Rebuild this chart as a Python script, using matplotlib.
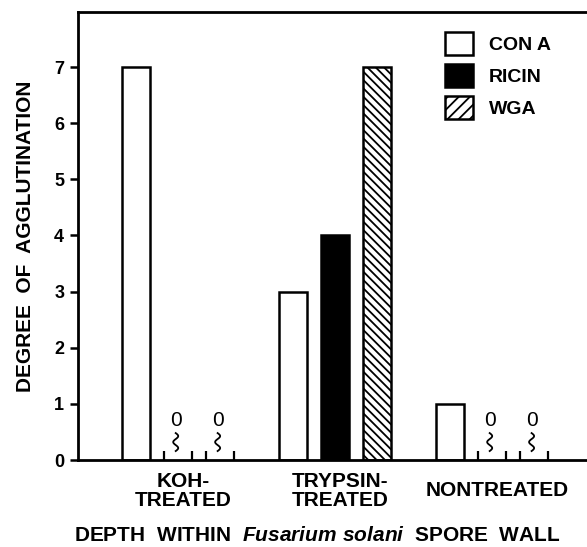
import matplotlib
matplotlib.use("Agg")
import matplotlib.pyplot as plt
from matplotlib.patches import Patch
import numpy as np

# Données
groupes = ["KOH-\nTREATED", "TRYPSIN-\nTREATED", "NONTREATED"]
lectines = ["CON A", "RICIN", "WGA"]
con_a = [7, 3, 1]
ricin = [0, 4, 0]
wga = [0, 7, 0]
yticks = [0, 1, 2, 3, 4, 5, 6, 7]

plt.rcParams['font.family'] = ['Liberation Sans', 'DejaVu Sans']
plt.rcParams['font.weight'] = 'bold'
plt.rcParams['axes.labelweight'] = 'bold'
plt.rcParams['hatch.linewidth'] = 1.3
plt.rcParams['mathtext.fontset'] = 'custom'
plt.rcParams['mathtext.it'] = 'Liberation Sans:italic:bold'
plt.rcParams['mathtext.rm'] = 'Liberation Sans:bold'

fig = plt.figure(figsize=(5.87, 5.47), dpi=100)
ax = fig.add_axes([0.133, 0.159, 0.867, 0.819])

x = np.arange(len(groupes))
larg = 0.178
decal = 0.267
series = [con_a, ricin, wga]
remplis = ["white", "black", "white"]
hachures = [None, None, "\\\\\\\\"]

for i, vals in enumerate(series):
    pos = x + (i - 1) * decal
    for xp, v in zip(pos, vals):
        if v > 0:
            ax.bar(xp, v, width=larg, edgecolor="black", linewidth=1.8,
                   facecolor=remplis[i], hatch=hachures[i], zorder=2)
        else:
            # valeur nulle : petits traits, "0" et trait ondulé
            ax.vlines([xp - larg / 2, xp + larg / 2], 0, 0.16, color="black", lw=1.6)
            ax.text(xp - 0.015, 0.71, "0", ha="center", va="center", fontsize=15,
                    fontweight="normal")
            t = np.linspace(0, 1, 40)
            ax.plot(xp - 0.015 + 0.016 * np.sin(2 * np.pi * 1.5 * t),
                    0.48 - 0.32 * t, color="black", lw=1.3)

ax.set_xlim(-0.637, 2.605)
ax.set_ylim(0, 7.98)
ax.set_yticks(yticks)
ax.set_yticklabels([str(t) for t in yticks], fontsize=13)
ax.set_xticks(x + 0.03)
ax.set_xticklabels(groupes, fontsize=15, linespacing=1.0)
for lab in ax.get_xticklabels():
    lab.set_va("center")
ax.tick_params(axis="x", length=0, pad=22)
ax.tick_params(axis="y", length=6, width=1.8, pad=4)

for s in ["left", "bottom", "top"]:
    ax.spines[s].set_linewidth(2.0)
ax.spines["right"].set_visible(False)

ax.set_ylabel("DEGREE  OF  AGGLUTINATION", fontsize=15, labelpad=14)
ax.set_xlabel("DEPTH  WITHIN  $Fusarium\\ solani$  SPORE  WALL", fontsize=15,
              labelpad=12, x=0.47)

poignees = [Patch(facecolor="white", edgecolor="black", linewidth=1.8),
            Patch(facecolor="black", edgecolor="black", linewidth=1.8),
            Patch(facecolor="white", edgecolor="black", linewidth=1.8, hatch="///")]
leg = ax.legend(poignees, lectines, loc="upper left", bbox_to_anchor=(0.721, 0.955),
                frameon=False, fontsize=14, handlelength=1.45, handleheight=1.45,
                labelspacing=0.45, handletextpad=0.8, borderpad=0, borderaxespad=0)

fig.savefig("out.png", dpi=100)
